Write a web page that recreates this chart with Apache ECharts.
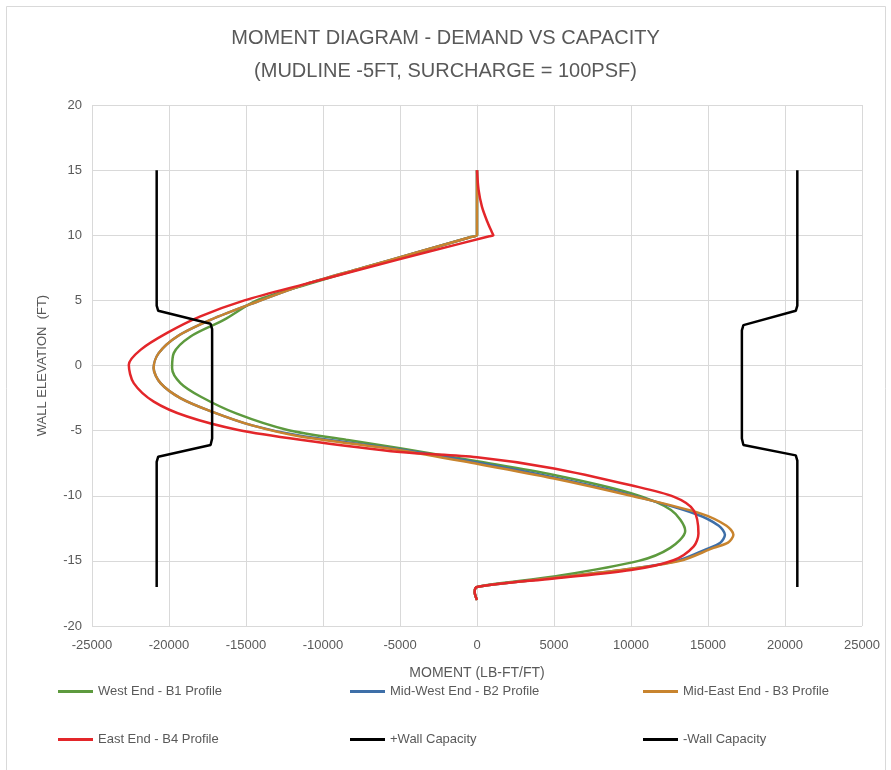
<!DOCTYPE html>
<html>
<head>
<meta charset="utf-8">
<script src="https://cdn.jsdelivr.net/npm/echarts@6/dist/echarts.min.js"></script>
<style>
  html, body { margin: 0; padding: 0; background: #fff; }
  #chart { width: 891px; height: 770px; }
</style>
</head>
<body>
<div id="chart"></div>
<script>
// 图例名称
let seriesNames = ['West End - B1 Profile', 'Mid-West End - B2 Profile', 'Mid-East End - B3 Profile',
    'East End - B4 Profile', '+Wall Capacity', '-Wall Capacity'];

// 数据: [弯矩, 标高]
let westB1 = [
    [0, 15], [0, 12.5], [0, 10.2], [0, 10], [-500, 9.83], [-3650, 8.75], [-7350, 7.5],
    [-10950, 6.25], [-14300, 5], [-16440, 3.5], [-18600, 2.23], [-19690, 0.95], [-19800, -0.2],
    [-19260, -1.35], [-17960, -2.38], [-15600, -3.7], [-12300, -4.95], [-8500, -5.7],
    [-5000, -6.35], [0, -7.35], [5000, -8.4], [10000, -9.8], [12600, -11.1], [13520, -12.7],
    [12550, -14], [10500, -15], [5000, -16.2], [0, -17], [-150, -17.4], [0, -18]
];
let midWestB2 = [
    [0, 15], [0, 12.5], [0, 10.2], [0, 10], [-500, 9.83], [-3700, 8.75], [-7400, 7.5],
    [-11100, 6.25], [-14500, 4.8], [-17310, 3.5], [-19470, 2.23], [-20670, 0.95], [-21000, -0.2],
    [-20550, -1.35], [-19260, -2.5], [-17310, -3.5], [-14600, -4.6], [-11470, -5.4],
    [-5000, -6.45], [0, -7.45], [5000, -8.6], [10000, -9.95], [14200, -11.4], [15700, -12.3],
    [16100, -13.0], [15800, -13.6], [14900, -14.1], [13000, -15], [10000, -15.6],
    [5000, -16.3], [0, -17], [-150, -17.4], [0, -18]
];
let midEastB3 = [
    [0, 15], [0, 12.5], [0, 10.2], [0, 10], [-500, 9.83], [-3700, 8.75], [-7400, 7.5],
    [-11100, 6.25], [-14500, 4.8], [-17310, 3.5], [-19470, 2.23], [-20670, 0.95], [-21000, -0.2],
    [-20550, -1.35], [-19260, -2.5], [-17310, -3.5], [-14600, -4.6], [-11470, -5.45],
    [-5000, -6.5], [0, -7.55], [5000, -8.67], [10000, -10], [14500, -11.35], [16200, -12.3],
    [16650, -13.0], [16300, -13.6], [15360, -14], [13190, -15], [10000, -15.6],
    [5000, -16.3], [0, -17], [-150, -17.4], [0, -18]
];
let eastB4 = [
    [0, 15], [100, 13.5], [320, 12.2], [650, 11.1], [1000, 10.15], [1060, 10], [800, 9.92],
    [-3100, 8.75], [-7150, 7.5], [-11200, 6.25], [-15100, 5.0], [-17960, 3.77], [-20120, 2.5],
    [-21850, 1.2], [-22610, 0.05], [-22290, -1.35], [-20990, -2.77], [-18820, -3.92],
    [-15500, -4.95], [-11470, -5.7], [-5000, -6.65], [0, -7.05], [5000, -7.9], [10000, -9.2],
    [12760, -10.07], [14060, -11.1], [14380, -12.9], [14060, -13.9], [12760, -14.95],
    [10000, -15.7], [5000, -16.35], [0, -17], [-150, -17.4], [0, -18]
];
let wallPlus = [
    [20800, 15], [20800, 4.6], [20700, 4.2], [17300, 3.1], [17200, 2.7], [17200, -5.6],
    [17300, -6.1], [20700, -6.9], [20800, -7.3], [20800, -17]
];
let wallMinus = [
    [-20800, 15], [-20800, 4.6], [-20700, 4.2], [-17300, 3.2], [-17200, 2.8], [-17200, -5.6],
    [-17300, -6.1], [-20700, -7.0], [-20800, -7.4], [-20800, -17]
];

let colors = ['#5d9a3e', '#3e6fa8', '#c8842e', '#e3262a', '#000000', '#000000'];

let textColor = '#595959';
let gridColor = '#d9d9d9';

let myChart = echarts.init(document.getElementById('chart'));

function lineSeries(name, data, color, smooth) {
    return {
        name: name,
        type: 'line',
        data: data,
        smooth: smooth,
        symbol: 'none',
        lineStyle: { color: color, width: 2.5 },
        itemStyle: { color: color },
        z: 2
    };
}

let legendBase = {
    orient: 'vertical',
    icon: 'rect',
    itemWidth: 35,
    itemHeight: 3,
    itemGap: 35,
    textStyle: { color: textColor, fontSize: 13, fontFamily: 'Liberation Sans' }
};

let option = {
    animation: false,
    backgroundColor: '#fff',
    title: {
        text: 'MOMENT DIAGRAM - DEMAND VS CAPACITY\n(MUDLINE -5FT, SURCHARGE = 100PSF)',
        left: 'center',
        top: 17,
        textStyle: { color: textColor, fontSize: 20, fontWeight: 'normal', lineHeight: 33, fontFamily: 'Liberation Sans' }
    },
    legend: [
        Object.assign({ left: 53, top: 680, data: [seriesNames[0], seriesNames[3]] }, legendBase),
        Object.assign({ left: 345, top: 680, data: [seriesNames[1], seriesNames[4]] }, legendBase),
        Object.assign({ left: 638, top: 680, data: [seriesNames[2], seriesNames[5]] }, legendBase)
    ],
    grid: { left: 92, right: 29, top: 105, bottom: 144 },
    xAxis: {
        type: 'value',
        min: -25000,
        max: 25000,
        interval: 5000,
        name: 'MOMENT (LB-FT/FT)',
        nameLocation: 'middle',
        nameGap: 40,
        nameTextStyle: { color: textColor, fontSize: 14, fontFamily: 'Liberation Sans' },
        axisLine: { show: true, lineStyle: { color: gridColor } },
        axisTick: { show: false },
        axisLabel: {
            color: textColor, fontSize: 13, margin: 13, fontFamily: 'Liberation Sans',
            formatter: function (v) { return String(v); }
        },
        splitLine: { show: true, lineStyle: { color: gridColor } }
    },
    yAxis: {
        type: 'value',
        min: -20,
        max: 20,
        interval: 5,
        name: 'WALL ELEVATION  (FT)',
        nameLocation: 'middle',
        nameGap: 43,
        nameTextStyle: { color: textColor, fontSize: 13, fontFamily: 'Liberation Sans' },
        axisLine: { show: true, lineStyle: { color: gridColor } },
        axisTick: { show: false },
        axisLabel: { color: textColor, fontSize: 13, margin: 10, fontFamily: 'Liberation Sans' },
        splitLine: { show: true, lineStyle: { color: gridColor } }
    },
    graphic: [{
        type: 'rect',
        shape: { x: 6.5, y: 6.5, width: 879, height: 770 },
        style: { fill: 'none', stroke: gridColor, lineWidth: 1 },
        silent: true
    }],
    series: [
        lineSeries(seriesNames[0], westB1, colors[0], 0.3),
        lineSeries(seriesNames[1], midWestB2, colors[1], 0.3),
        lineSeries(seriesNames[2], midEastB3, colors[2], 0.3),
        lineSeries(seriesNames[3], eastB4, colors[3], 0.3),
        lineSeries(seriesNames[4], wallPlus, colors[4], false),
        lineSeries(seriesNames[5], wallMinus, colors[5], false)
    ]
};
myChart.setOption(option);
</script>
</body>
</html>
